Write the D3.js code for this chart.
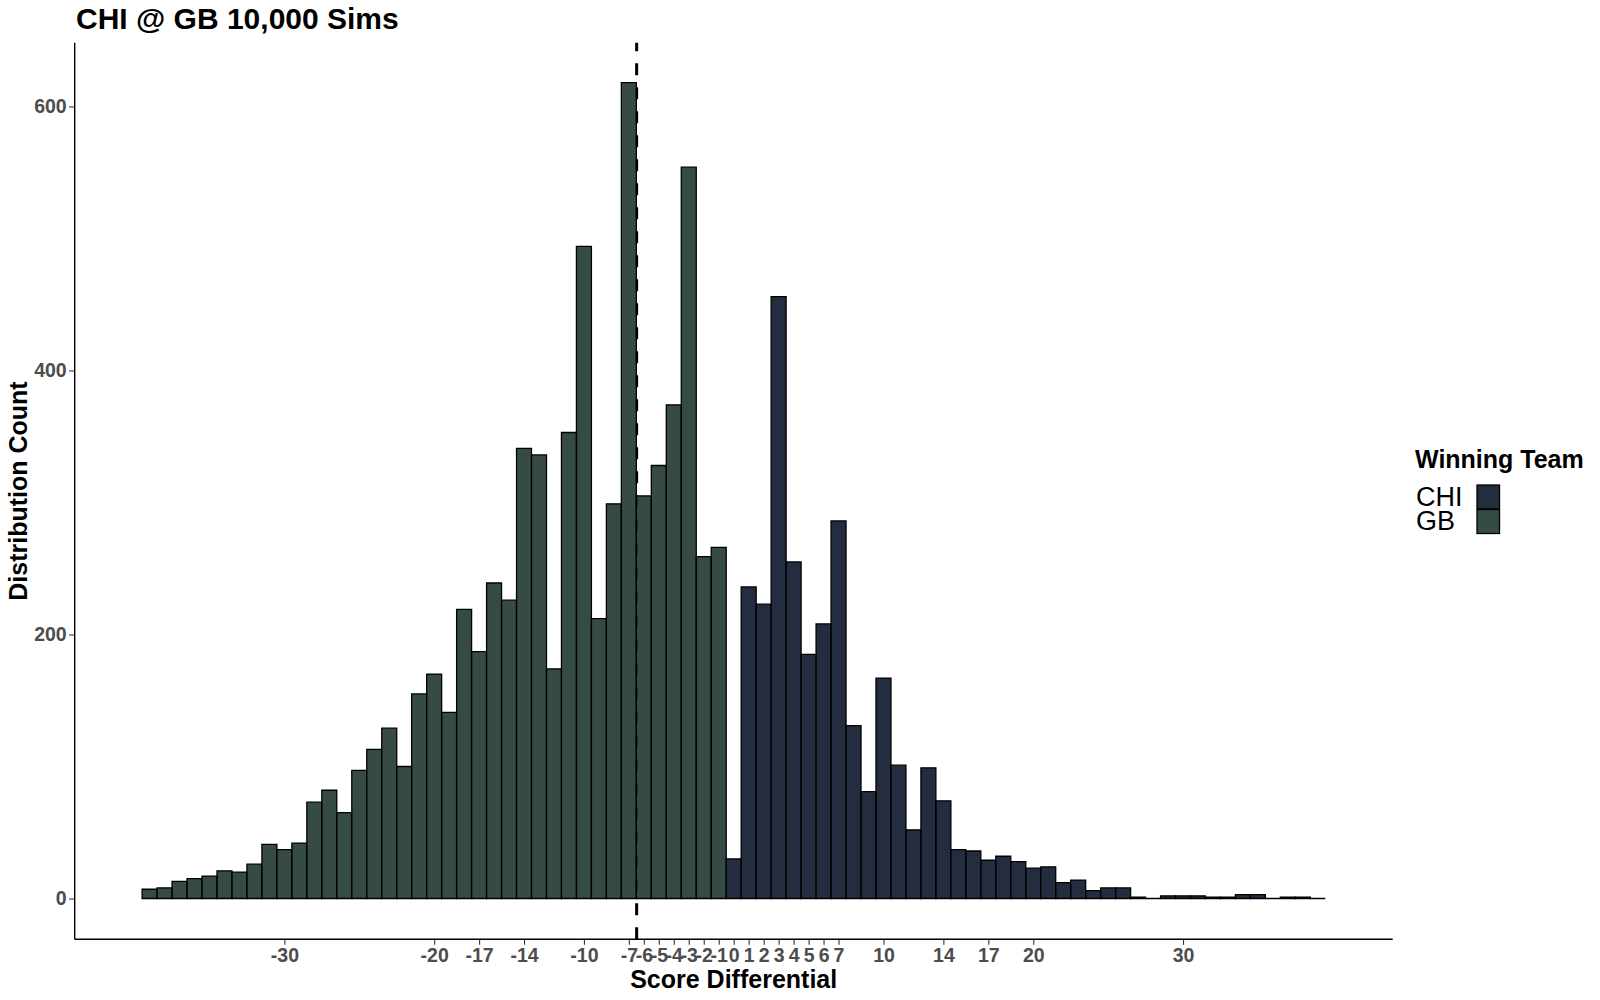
<!DOCTYPE html>
<html>
<head>
<meta charset="utf-8">
<script src="https://cdn.jsdelivr.net/npm/d3@7"></script>
<style>
  html, body { margin: 0; padding: 0; background: #fff; }
  svg { display: block; font-family: "Liberation Sans", Arial, sans-serif; }
</style>
</head>
<body>
<svg id="chart" width="1600" height="1000"></svg>
<script>
// ---- data ----
const gbDiffs  = [-39,-38,-37,-36,-35,-34,-33,-32,-31,-30,-29,-28,-27,-26,-25,-24,-23,-22,-21,-20,
                  -19,-18,-17,-16,-15,-14,-13,-12,-11,-10,-9,-8,-7,-6,-5,-4,-3,-2,-1];
const gbCounts = [7,8,13,15,17,21,20,26,41,37,42,73,82,65,97,113,129,100,155,170,
                  141,219,187,239,226,341,336,174,353,494,212,299,618,305,328,374,554,259,266];
const chiDiffs  = [0,1,2,3,4,5,6,7,8,9,10,11,12,13,14,15,16,17,18,19,
                   20,21,22,23,24,25,26,27,28,29,30,31,32,33,34,35,36,37,38,39];
const chiCounts = [30,236,223,456,255,185,208,286,131,81,167,101,52,99,74,37,36,29,32,28,
                   23,24,12,14,6,8,8,1,0,2,2,2,1,1,3,3,0,1,1,0];
const xTickValues = [-30,-20,-17,-14,-10,-7,-6,-5,-4,-3,-2,-1,0,1,2,3,4,5,6,7,10,14,17,20,30];
const yTickValues = [0,200,400,600];
const meanDiff = -6.48;
const teams = ["CHI","GB"];
const teamColors = {CHI: "#0B162A", GB: "#203731"};
const titleText = "CHI @ GB 10,000 Sims";

// ---- layout ----
const panel = {left: 74.7, right: 1392.7, top: 42.7, bottom: 939.3};
const svg = d3.select("#chart");

const x = d3.scaleLinear().domain([-44, 44]).range([panel.left, panel.right]);
const y = d3.scaleLinear().domain([-30.9, 648.3]).range([panel.bottom, panel.top]);

const bars = gbDiffs.map((d, i) => ({diff: d, count: gbCounts[i], team: "GB"}))
  .concat(chiDiffs.map((d, i) => ({diff: d, count: chiCounts[i], team: "CHI"})));

// mean line (drawn beneath bars; bars have alpha)
svg.append("line")
  .attr("x1", x(meanDiff)).attr("x2", x(meanDiff))
  .attr("y1", panel.bottom).attr("y2", panel.top)
  .attr("stroke", "#000").attr("stroke-width", 3)
  .attr("stroke-dasharray", "12,12");

// bars
svg.append("g").selectAll("path")
  .data(bars)
  .join("path")
  .attr("d", d => {
    const x0 = x(d.diff - 0.5), x1 = x(d.diff + 0.5);
    const y0 = y(0), y1 = y(d.count);
    return `M${x0},${y0}V${y1}H${x1}V${y0}Z`;
  })
  .attr("fill", d => teamColors[d.team])
  .attr("fill-opacity", 0.9)
  .attr("stroke", "#000")
  .attr("stroke-width", 1.3);

// axes
const tickColor = "#333";
const labelColor = "#4D4D4D";
const fmt = d => String(d);

const xAxis = svg.append("g")
  .attr("transform", `translate(0,${panel.bottom})`)
  .call(d3.axisBottom(x).tickValues(xTickValues).tickFormat(fmt).tickSize(5.5).tickPadding(3));
xAxis.select(".domain").remove();
xAxis.selectAll(".tick line").attr("stroke", tickColor).attr("stroke-width", 1.1);
xAxis.selectAll(".tick text")
  .attr("fill", labelColor).attr("font-size", "19.5px").attr("font-weight", "bold")
  .attr("font-family", "Liberation Sans, Arial, sans-serif");

const yAxis = svg.append("g")
  .attr("transform", `translate(${panel.left},0)`)
  .call(d3.axisLeft(y).tickValues(yTickValues).tickFormat(fmt).tickSize(5.5).tickPadding(2.5));
yAxis.select(".domain").remove();
yAxis.selectAll(".tick line").attr("stroke", tickColor).attr("stroke-width", 1.1);
yAxis.selectAll(".tick text")
  .attr("fill", labelColor).attr("font-size", "19.5px").attr("font-weight", "bold")
  .attr("font-family", "Liberation Sans, Arial, sans-serif");

// axis lines
svg.append("line")
  .attr("x1", panel.left).attr("x2", panel.right)
  .attr("y1", panel.bottom).attr("y2", panel.bottom)
  .attr("stroke", "#000").attr("stroke-width", 1.4);
svg.append("line")
  .attr("x1", panel.left).attr("x2", panel.left)
  .attr("y1", panel.top).attr("y2", panel.bottom)
  .attr("stroke", "#000").attr("stroke-width", 1.4);

// axis titles
svg.append("text")
  .attr("x", (panel.left + panel.right) / 2).attr("y", 988)
  .attr("text-anchor", "middle")
  .attr("font-size", "25px").attr("font-weight", "bold").attr("fill", "#000")
  .text("Score Differential");

svg.append("text")
  .attr("transform", `translate(26.5,${(panel.top + panel.bottom) / 2}) rotate(-90)`)
  .attr("text-anchor", "middle")
  .attr("font-size", "25px").attr("font-weight", "bold").attr("fill", "#000")
  .text("Distribution Count");

// title
svg.append("text")
  .attr("x", 76).attr("y", 29.3)
  .attr("font-size", "30px").attr("font-weight", "bold").attr("fill", "#000")
  .text(titleText);

// legend
const legend = svg.append("g");
legend.append("text")
  .attr("x", 1415).attr("y", 468)
  .attr("font-size", "25px").attr("font-weight", "bold").attr("fill", "#000")
  .text("Winning Team");
const items = legend.selectAll("g.item").data(teams).join("g").attr("class", "item")
  .attr("transform", (d, i) => `translate(0,${485 + i * 24.5})`);
items.append("rect")
  .attr("x", 1477).attr("y", 0).attr("width", 22.5).attr("height", 24)
  .attr("fill", d => teamColors[d]).attr("fill-opacity", 0.9)
  .attr("stroke", "#000").attr("stroke-width", 1.3);
items.append("text")
  .attr("x", 1416).attr("y", 20.5)
  .attr("font-size", "27px").attr("fill", "#000")
  .text(d => d);
</script>
</body>
</html>
